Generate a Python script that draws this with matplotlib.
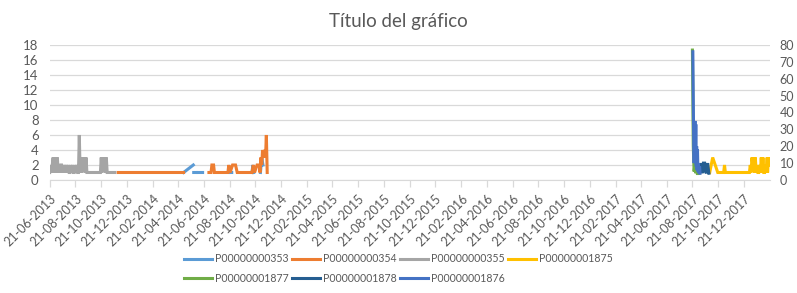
import numpy as np
import pandas as pd
import matplotlib
matplotlib.use("Agg")
import matplotlib.pyplot as plt
import matplotlib.dates as mdates

plt.rcParams['font.family'] = ['Lato', 'DejaVu Sans']

# --- data ---
# P00000000355 (grey), one value every 2 days from 21-06-2013
s355_start = '2013-06-21'
s355_vals = [1, 2, 1, 2, 3, 1, 3, 2, 1, 3, 1, 2, 1, 2, 2, 1, 2, 1, 2, 1,
             2, 1, 2, 1, 1, 2, 1, 2, 1, 1, 2, 1, 2, 1, 1, 6, 1, 3, 1, 3,
             2, 3, 1, 3, 1, 1, 1, 1, 1, 1, 1, 1, 1, 1, 1, 1, 1, 1, 1, 1,
             1, 3, 1, 3, 2, 3, 1, 3, 1, 1, 1, 1, 1, 1, 1, 1, 1, 1]

# P00000000354 (orange)
s354_dates = ['2013-11-30', '2014-01-15', '2014-03-01', '2014-05-04', '2014-06-01',
              '2014-07-03', '2014-07-08', '2014-07-10', '2014-07-14', '2014-07-16',
              '2014-08-17', '2014-08-19', '2014-08-22', '2014-08-28', '2014-09-04',
              '2014-09-08', '2014-10-13', '2014-10-16', '2014-10-19', '2014-10-25',
              '2014-10-30', '2014-11-01', '2014-11-03', '2014-11-05', '2014-11-07',
              '2014-11-09', '2014-11-12', '2014-11-14', '2014-11-16', '2014-11-18']
s354_vals = [1, 1, 1, 1, None,
             1, 1, 2, 2, 1,
             1, 2, 1, 2, 2,
             1, 1, 2, 1, 2,
             2, 1, 3, 2, 4,
             3, 4, 3, 6, 1]

# P00000000353 (light blue)
s353_dates = ['2014-05-04', '2014-05-27', '2014-05-27', '2014-05-28', '2014-06-03',
              '2014-06-05', '2014-06-07', '2014-06-18', '2014-07-01',
              '2014-08-23', '2014-08-26', '2014-09-01',
              '2014-10-13', '2014-10-15', '2014-10-17', '2014-10-24',
              '2014-11-02', '2014-11-05', '2014-11-08']
s353_vals = [1, 2, None, 1, 1,
             None, 1, 1, None,
             1, 1, None,
             1, 2, 1, None,
             1, 3, 2]

# P00000001875 (yellow)
s1875_dates = ['2017-10-01', '2017-10-08', '2017-10-20', '2017-11-03', '2017-11-05',
               '2017-11-07', '2018-01-03', '2018-01-05', '2018-01-07', '2018-01-09',
               '2018-01-11', '2018-01-13', '2018-01-15', '2018-01-17', '2018-01-19',
               '2018-01-21', '2018-01-23', '2018-01-25', '2018-01-27', '2018-01-29',
               '2018-01-31', '2018-02-02', '2018-02-04', '2018-02-06', '2018-02-08',
               '2018-02-10', '2018-02-12', '2018-02-14', '2018-02-15', '2018-02-17',
               '2018-02-19']
s1875_vals = [1, 3, 1, 1, 2,
              1, 1, 2, 1, 3,
              2, 3, 1, 3, 1,
              2, 1, 1, 2, 1,
              3, 1, 3, 1, 1,
              2, 1, 3, 1, 3,
              2]

# secondary axis series
s1877_dates = ['2017-08-21', '2017-08-23', '2017-08-25', '2017-08-27', '2017-08-29',
               '2017-08-31', '2017-09-02', '2017-09-04', '2017-09-06']
s1877_vals = [77, 20, 5, 10, 4, 10, 3, 10, 4]

s1878_dates = ['2017-09-07', '2017-09-10', '2017-09-13', '2017-09-16', '2017-09-19',
               '2017-09-21', '2017-09-23', '2017-09-26', '2017-09-29']
s1878_vals = [5, 10, 4, 10, 10, 5, 4, 10, 4]

s1876_dates = ['2017-08-22', '2017-08-24', '2017-08-25', '2017-08-27', '2017-08-28',
               '2017-08-29', '2017-08-30', '2017-08-31', '2017-09-01', '2017-09-02',
               '2017-09-03', '2017-09-04', '2017-09-05', '2017-09-07', '2017-09-08']
s1876_vals = [76, 22, 10, 35, 12, 33, 8, 20, 6, 18, 5, 10, 4, 8, 4]

colors = {
    'P00000000353': '#5B9BD5',
    'P00000000354': '#ED7D31',
    'P00000000355': '#A5A5A5',
    'P00000001875': '#FFC000',
    'P00000001877': '#70AD47',
    'P00000001878': '#255E91',
    'P00000001876': '#4472C4',
}

def series(dates, vals):
    return pd.to_datetime(dates), np.array([np.nan if v is None else v for v in vals], dtype=float)

fig = plt.figure(figsize=(7.97, 2.93), dpi=100)
ax = fig.add_axes([0.0624, 0.3857, 0.9036, 0.4607])
ax2 = ax.twinx()

lw = 2.2
handles = {}
x355 = pd.date_range(s355_start, periods=len(s355_vals), freq='2D')
for name, (x, y) in [('P00000000353', series(s353_dates, s353_vals)),
                     ('P00000000354', series(s354_dates, s354_vals)),
                     ('P00000000355', (x355, np.array(s355_vals, dtype=float))),
                     ('P00000001875', series(s1875_dates, s1875_vals))]:
    handles[name], = ax.plot(x, y, color=colors[name], lw=lw, solid_joinstyle='miter')

for name, (x, y) in [('P00000001877', series(s1877_dates, s1877_vals)),
                     ('P00000001878', series(s1878_dates, s1878_vals)),
                     ('P00000001876', series(s1876_dates, s1876_vals))]:
    handles[name], = ax2.plot(x, y, color=colors[name], lw=lw, solid_joinstyle='miter')

# axes
ax.set_xlim(pd.Timestamp('2013-06-21'), pd.Timestamp('2018-02-20 12:00'))
ax.set_ylim(0, 18)
ax.set_yticks(range(0, 19, 2))
ax2.set_ylim(0, 80)
ax2.set_yticks(range(0, 81, 10))

ax.xaxis.set_major_locator(mdates.MonthLocator(bymonth=[2, 4, 6, 8, 10, 12], bymonthday=21))
ax.xaxis.set_major_formatter(mdates.DateFormatter('%d-%m-%Y'))
for lab in ax.get_xticklabels():
    lab.set_rotation(45)
    lab.set_ha('right')
    lab.set_rotation_mode('anchor')

ax.grid(axis='y', color='#D9D9D9', lw=0.9)
ax.set_axisbelow(True)
for s in ['top', 'left', 'right']:
    ax.spines[s].set_visible(False)
    ax2.spines[s].set_visible(False)
ax2.spines['bottom'].set_visible(False)
ax.spines['bottom'].set_color('#D9D9D9')

ax.tick_params(axis='x', colors='#D9D9D9', length=5, width=0.9, pad=4,
               labelcolor='#595959', labelsize=9)
ax.tick_params(axis='y', length=0, pad=8, labelcolor='#595959', labelsize=9.5)
ax2.tick_params(axis='y', length=0, pad=7, labelcolor='#595959', labelsize=9)

fig.text(0.5, 0.925, 'Título del gráfico', ha='center', va='center',
         fontsize=13.5, color='#595959')

# legend: column-major order so rows read like the original
order = ['P00000000353', 'P00000001877', 'P00000000354', 'P00000001878',
         'P00000000355', 'P00000001876', 'P00000001875']
leg = fig.legend([handles[k] for k in order], order, ncol=4, loc='center',
                 bbox_to_anchor=(0.5, 0.083), frameon=False, fontsize=7.6,
                 handlelength=2.65, handletextpad=0.25, columnspacing=0.35,
                 labelspacing=0.85)
for t in leg.get_texts():
    t.set_color('#595959')

fig.savefig('out.png', dpi=100)
